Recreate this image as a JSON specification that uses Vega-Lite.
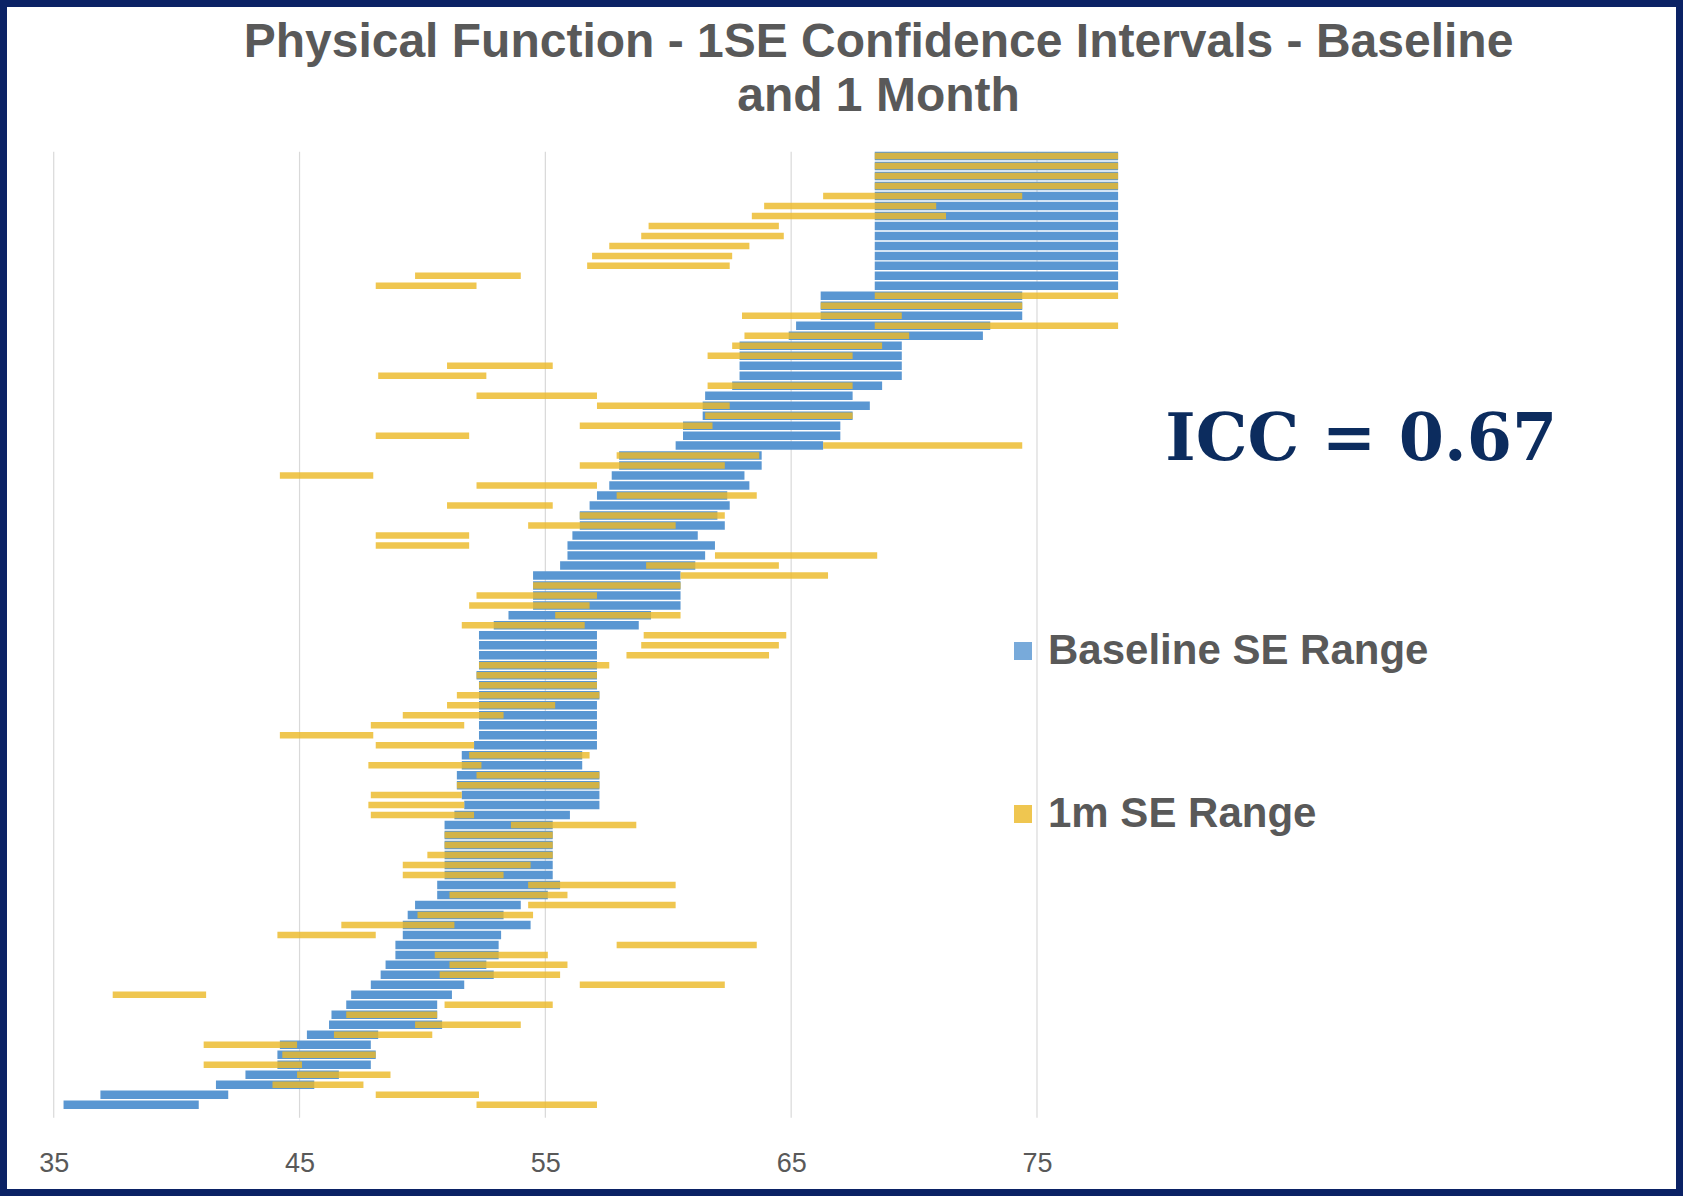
{
  "$schema": "https://vega.github.io/schema/vega-lite/v6.json",
  "width": 1683,
  "height": 1196,
  "autosize": {"type": "none"},
  "padding": 0,
  "background": "white",
  "config": {
    "view": {"stroke": "#0B2265", "strokeWidth": 14, "fill": "white"}
  },
  "title": {
    "text": ["Physical Function - 1SE Confidence Intervals - Baseline", "and 1 Month"],
    "font": "Liberation Sans",
    "fontSize": 48,
    "fontWeight": "bold",
    "color": "#595959",
    "anchor": "middle",
    "offset": -121,
    "lineHeight": 54,
    "dx": 37
  },
  "datasets": {
    "grid": [{"g": 35}, {"g": 45}, {"g": 55}, {"g": 65}, {"g": 75}],
    "rows": [
      {"r": 1, "b0": 68.4, "b1": 78.3, "m0": 68.4, "m1": 78.3},
      {"r": 2, "b0": 68.4, "b1": 78.3, "m0": 68.4, "m1": 78.3},
      {"r": 3, "b0": 68.4, "b1": 78.3, "m0": 68.4, "m1": 78.3},
      {"r": 4, "b0": 68.4, "b1": 78.3, "m0": 68.4, "m1": 78.3},
      {"r": 5, "b0": 68.4, "b1": 78.3, "m0": 66.3, "m1": 74.4},
      {"r": 6, "b0": 68.4, "b1": 78.3, "m0": 63.9, "m1": 70.9},
      {"r": 7, "b0": 68.4, "b1": 78.3, "m0": 63.4, "m1": 71.3},
      {"r": 8, "b0": 68.4, "b1": 78.3, "m0": 59.2, "m1": 64.5},
      {"r": 9, "b0": 68.4, "b1": 78.3, "m0": 58.9, "m1": 64.7},
      {"r": 10, "b0": 68.4, "b1": 78.3, "m0": 57.6, "m1": 63.3},
      {"r": 11, "b0": 68.4, "b1": 78.3, "m0": 56.9, "m1": 62.6},
      {"r": 12, "b0": 68.4, "b1": 78.3, "m0": 56.7, "m1": 62.5},
      {"r": 13, "b0": 68.4, "b1": 78.3, "m0": 49.7, "m1": 54.0},
      {"r": 14, "b0": 68.4, "b1": 78.3, "m0": 48.1, "m1": 52.2},
      {"r": 15, "b0": 66.2, "b1": 74.4, "m0": 68.4, "m1": 78.3},
      {"r": 16, "b0": 66.2, "b1": 74.4, "m0": 66.2, "m1": 74.4},
      {"r": 17, "b0": 66.2, "b1": 74.4, "m0": 63.0, "m1": 69.5},
      {"r": 18, "b0": 65.2, "b1": 73.1, "m0": 68.4, "m1": 78.3},
      {"r": 19, "b0": 64.9, "b1": 72.8, "m0": 63.1, "m1": 69.8},
      {"r": 20, "b0": 62.9, "b1": 69.5, "m0": 62.6, "m1": 68.7},
      {"r": 21, "b0": 62.9, "b1": 69.5, "m0": 61.6, "m1": 67.5},
      {"r": 22, "b0": 62.9, "b1": 69.5, "m0": 51.0, "m1": 55.3},
      {"r": 23, "b0": 62.9, "b1": 69.5, "m0": 48.2, "m1": 52.6},
      {"r": 24, "b0": 62.6, "b1": 68.7, "m0": 61.6, "m1": 67.5},
      {"r": 25, "b0": 61.5, "b1": 67.5, "m0": 52.2, "m1": 57.1},
      {"r": 26, "b0": 61.4, "b1": 68.2, "m0": 57.1, "m1": 62.5},
      {"r": 27, "b0": 61.4, "b1": 67.5, "m0": 61.5, "m1": 67.5},
      {"r": 28, "b0": 60.6, "b1": 67.0, "m0": 56.4, "m1": 61.8},
      {"r": 29, "b0": 60.6, "b1": 67.0, "m0": 48.1, "m1": 51.9},
      {"r": 30, "b0": 60.3, "b1": 66.3, "m0": 66.3, "m1": 74.4},
      {"r": 31, "b0": 58.0, "b1": 63.8, "m0": 57.9, "m1": 63.7},
      {"r": 32, "b0": 58.0, "b1": 63.8, "m0": 56.4, "m1": 62.3},
      {"r": 33, "b0": 57.7, "b1": 63.1, "m0": 44.2, "m1": 48.0},
      {"r": 34, "b0": 57.6, "b1": 63.3, "m0": 52.2, "m1": 57.1},
      {"r": 35, "b0": 57.1, "b1": 62.4, "m0": 57.9, "m1": 63.6},
      {"r": 36, "b0": 56.8, "b1": 62.5, "m0": 51.0, "m1": 55.3},
      {"r": 37, "b0": 56.4, "b1": 62.0, "m0": 56.4, "m1": 62.3},
      {"r": 38, "b0": 56.4, "b1": 62.3, "m0": 54.3, "m1": 60.3},
      {"r": 39, "b0": 56.1, "b1": 61.2, "m0": 48.1, "m1": 51.9},
      {"r": 40, "b0": 55.9, "b1": 61.9, "m0": 48.1, "m1": 51.9},
      {"r": 41, "b0": 55.9, "b1": 61.5, "m0": 61.9, "m1": 68.5},
      {"r": 42, "b0": 55.6, "b1": 61.1, "m0": 59.1, "m1": 64.5},
      {"r": 43, "b0": 54.5, "b1": 60.5, "m0": 60.5, "m1": 66.5},
      {"r": 44, "b0": 54.5, "b1": 60.5, "m0": 54.5, "m1": 60.5},
      {"r": 45, "b0": 54.5, "b1": 60.5, "m0": 52.2, "m1": 57.1},
      {"r": 46, "b0": 54.5, "b1": 60.5, "m0": 51.9, "m1": 56.8},
      {"r": 47, "b0": 53.5, "b1": 59.3, "m0": 55.4, "m1": 60.5},
      {"r": 48, "b0": 52.9, "b1": 58.8, "m0": 51.6, "m1": 56.6},
      {"r": 49, "b0": 52.3, "b1": 57.1, "m0": 59.0, "m1": 64.8},
      {"r": 50, "b0": 52.3, "b1": 57.1, "m0": 58.9, "m1": 64.5},
      {"r": 51, "b0": 52.3, "b1": 57.1, "m0": 58.3, "m1": 64.1},
      {"r": 52, "b0": 52.3, "b1": 57.1, "m0": 52.3, "m1": 57.6},
      {"r": 53, "b0": 52.2, "b1": 57.1, "m0": 52.2, "m1": 57.1},
      {"r": 54, "b0": 52.3, "b1": 57.1, "m0": 52.3, "m1": 57.1},
      {"r": 55, "b0": 52.3, "b1": 57.2, "m0": 51.4, "m1": 57.2},
      {"r": 56, "b0": 52.3, "b1": 57.1, "m0": 51.0, "m1": 55.4},
      {"r": 57, "b0": 52.3, "b1": 57.1, "m0": 49.2, "m1": 53.3},
      {"r": 58, "b0": 52.3, "b1": 57.1, "m0": 47.9, "m1": 51.7},
      {"r": 59, "b0": 52.3, "b1": 57.1, "m0": 44.2, "m1": 48.0},
      {"r": 60, "b0": 52.1, "b1": 57.1, "m0": 48.1, "m1": 52.1},
      {"r": 61, "b0": 51.6, "b1": 56.5, "m0": 51.9, "m1": 56.8},
      {"r": 62, "b0": 51.6, "b1": 56.5, "m0": 47.8, "m1": 52.4},
      {"r": 63, "b0": 51.4, "b1": 57.2, "m0": 52.2, "m1": 57.2},
      {"r": 64, "b0": 51.4, "b1": 57.2, "m0": 51.4, "m1": 57.2},
      {"r": 65, "b0": 51.6, "b1": 57.2, "m0": 47.9, "m1": 51.6},
      {"r": 66, "b0": 51.7, "b1": 57.2, "m0": 47.8, "m1": 51.7},
      {"r": 67, "b0": 51.3, "b1": 56.0, "m0": 47.9, "m1": 52.1},
      {"r": 68, "b0": 50.9, "b1": 55.3, "m0": 53.6, "m1": 58.7},
      {"r": 69, "b0": 50.9, "b1": 55.3, "m0": 50.9, "m1": 55.3},
      {"r": 70, "b0": 50.9, "b1": 55.3, "m0": 50.9, "m1": 55.3},
      {"r": 71, "b0": 50.9, "b1": 55.3, "m0": 50.2, "m1": 55.3},
      {"r": 72, "b0": 50.9, "b1": 55.3, "m0": 49.2, "m1": 54.4},
      {"r": 73, "b0": 50.9, "b1": 55.3, "m0": 49.2, "m1": 53.3},
      {"r": 74, "b0": 50.6, "b1": 55.6, "m0": 54.3, "m1": 60.3},
      {"r": 75, "b0": 50.6, "b1": 55.1, "m0": 51.1, "m1": 55.9},
      {"r": 76, "b0": 49.7, "b1": 54.0, "m0": 54.3, "m1": 60.3},
      {"r": 77, "b0": 49.4, "b1": 53.3, "m0": 49.8, "m1": 54.5},
      {"r": 78, "b0": 49.2, "b1": 54.4, "m0": 46.7, "m1": 51.3},
      {"r": 79, "b0": 49.2, "b1": 53.2, "m0": 44.1, "m1": 48.1},
      {"r": 80, "b0": 48.9, "b1": 53.1, "m0": 57.9, "m1": 63.6},
      {"r": 81, "b0": 48.9, "b1": 53.1, "m0": 50.5, "m1": 55.1},
      {"r": 82, "b0": 48.5, "b1": 52.6, "m0": 51.1, "m1": 55.9},
      {"r": 83, "b0": 48.3, "b1": 52.9, "m0": 50.7, "m1": 55.6},
      {"r": 84, "b0": 47.9, "b1": 51.7, "m0": 56.4, "m1": 62.3},
      {"r": 85, "b0": 47.1, "b1": 51.2, "m0": 37.4, "m1": 41.2},
      {"r": 86, "b0": 46.9, "b1": 50.6, "m0": 50.9, "m1": 55.3},
      {"r": 87, "b0": 46.3, "b1": 50.6, "m0": 46.9, "m1": 50.6},
      {"r": 88, "b0": 46.2, "b1": 50.8, "m0": 49.7, "m1": 54.0},
      {"r": 89, "b0": 45.3, "b1": 48.2, "m0": 46.4, "m1": 50.4},
      {"r": 90, "b0": 44.2, "b1": 47.9, "m0": 41.1, "m1": 44.9},
      {"r": 91, "b0": 44.1, "b1": 48.1, "m0": 44.3, "m1": 48.1},
      {"r": 92, "b0": 44.1, "b1": 47.9, "m0": 41.1, "m1": 45.1},
      {"r": 93, "b0": 42.8, "b1": 46.6, "m0": 44.9, "m1": 48.7},
      {"r": 94, "b0": 41.6, "b1": 45.6, "m0": 43.9, "m1": 47.6},
      {"r": 95, "b0": 36.9, "b1": 42.1, "m0": 48.1, "m1": 52.3},
      {"r": 96, "b0": 35.4, "b1": 40.9, "m0": 52.2, "m1": 57.1}
    ]
  },
  "layer": [
    {
      "data": {"name": "grid"},
      "mark": {"type": "rule", "color": "#D9D9D9", "strokeWidth": 1.2},
      "encoding": {
        "x": {
          "field": "g",
          "type": "quantitative",
          "title": null,
          "scale": {"domain": [32.815, 101.28], "nice": false, "zero": false},
          "axis": {
            "values": [35, 45, 55, 65, 75],
            "grid": false,
            "domain": false,
            "ticks": false,
            "title": null,
            "labelFont": "Liberation Sans",
            "labelFontSize": 27,
            "labelColor": "#595959",
            "labelPadding": 0,
            "offset": -46
          }
        },
        "y": {
          "datum": 0.57,
          "type": "quantitative",
          "scale": {"domain": [-14.124, 104.645], "nice": false, "zero": false, "reverse": true},
          "axis": null
        },
        "y2": {"datum": 97.3}
      }
    },
    {
      "data": {"name": "rows"},
      "mark": {"type": "bar", "orient": "horizontal", "size": 8.5},
      "encoding": {
        "y": {"field": "r", "type": "quantitative", "axis": null, "title": null},
        "x": {"field": "b0", "type": "quantitative", "title": null},
        "x2": {"field": "b1"},
        "color": {
          "datum": "Baseline SE Range",
          "type": "nominal",
          "scale": {"domain": ["Baseline SE Range", "1m SE Range"], "range": ["#5A97D2", "#EBBA2A"]},
          "legend": {
            "orient": "none",
            "legendX": 1002,
            "legendY": 630,
            "title": null,
            "direction": "vertical",
            "labelFont": "Liberation Sans",
            "labelFontSize": 42,
            "labelFontWeight": "bold",
            "labelColor": "#595959",
            "labelLimit": 700,
            "labelOffset": 4,
            "symbolType": "square",
            "symbolSize": 324,
            "symbolOpacity": 1,
            "symbolStrokeWidth": 0,
            "rowPadding": 121
          }
        }
      }
    },
    {
      "data": {"name": "rows"},
      "mark": {"type": "bar", "orient": "horizontal", "size": 6.5, "opacity": 0.82},
      "encoding": {
        "y": {"field": "r", "type": "quantitative", "axis": null, "title": null},
        "x": {"field": "m0", "type": "quantitative", "title": null},
        "x2": {"field": "m1"},
        "color": {"datum": "1m SE Range", "type": "nominal"}
      }
    },
    {
      "data": {"values": [{"t": "ICC = 0.67"}]},
      "mark": {"type": "text", "font": "DejaVu Serif", "fontWeight": "bold", "fontSize": 65, "color": "#0C2C5E", "align": "center", "baseline": "alphabetic"},
      "encoding": {
        "text": {"field": "t"},
        "x": {"datum": 88.19, "type": "quantitative"},
        "y": {"datum": 31.46, "type": "quantitative", "axis": null}
      }
    }
  ]
}
